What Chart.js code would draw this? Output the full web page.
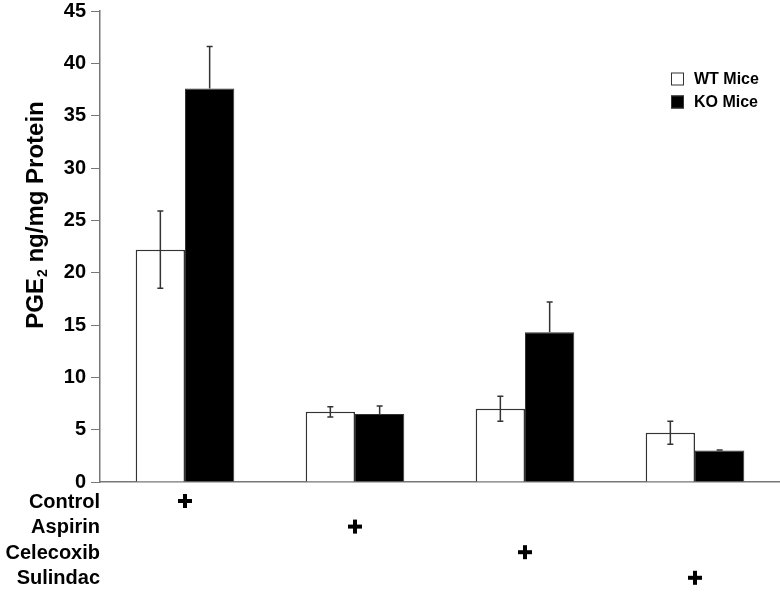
<!DOCTYPE html>
<html>
<head>
<meta charset="utf-8">
<script src="https://cdn.jsdelivr.net/npm/chart.js@4.4.0/dist/chart.umd.min.js"></script>
<style>
  html, body { margin: 0; padding: 0; background: #fff; }
  #wrap { width: 780px; height: 601px; position: relative; }
</style>
</head>
<body>
<div id="wrap"><canvas id="pgeChart"></canvas></div>
<script>
// groups (one per treatment) and series
const treatments = ['Control', 'Aspirin', 'Celecoxib', 'Sulindac'];
const wtValues = [22.2, 6.7, 7.0, 4.7];
const wtErrors = [3.7, 0.5, 1.2, 1.1];
const koValues = [37.6, 6.5, 14.3, 3.0];
const koErrors = [4.0, 0.75, 2.9, 0.05];
const yTicks = [0, 5, 10, 15, 20, 25, 30, 35, 40, 45];

const FONT = '"Liberation Sans", Arial, sans-serif';

// error bars on top of each bar
const errorBars = {
  id: 'errorBars',
  afterDatasetsDraw(chart) {
    const ctx = chart.ctx;
    const y = chart.scales.y;
    ctx.save();
    ctx.strokeStyle = '#333';
    ctx.lineWidth = 1.5;
    chart.data.datasets.forEach((ds, di) => {
      const meta = chart.getDatasetMeta(di);
      const dark = ds.backgroundColor === '#000000';
      meta.data.forEach((bar, i) => {
        const v = ds.data[i], e = ds.errors[i];
        const top = y.getPixelForValue(v + e);
        const bot = y.getPixelForValue(v - e);
        ctx.beginPath();
        ctx.moveTo(bar.x - 3, top); ctx.lineTo(bar.x + 3, top);
        ctx.moveTo(bar.x, top);
        if (dark) {
          // lower whisker disappears inside the black bar
          ctx.lineTo(bar.x, bar.y);
        } else {
          ctx.lineTo(bar.x, bot);
          ctx.moveTo(bar.x - 3, bot); ctx.lineTo(bar.x + 3, bot);
        }
        ctx.stroke();
      });
    });
    ctx.restore();
  }
};

// y title with subscript, legend box, treatment table under the axis
const extras = {
  id: 'extras',
  afterDraw(chart) {
    const ctx = chart.ctx;
    const x = chart.scales.x;
    const area = chart.chartArea;
    ctx.save();

    // y axis title (rotated, PGE with subscript 2)
    ctx.save();
    ctx.translate(43, 215);
    ctx.rotate(-Math.PI / 2);
    ctx.fillStyle = '#000';
    ctx.textBaseline = 'alphabetic';
    ctx.textAlign = 'left';
    const big = 'bold 24px ' + FONT, small = 'bold 14px ' + FONT;
    ctx.font = big;
    const w1 = ctx.measureText('PGE').width;
    const w3 = ctx.measureText(' ng/mg Protein').width;
    ctx.font = small;
    const w2 = ctx.measureText('2').width + 1;
    let sx = -(w1 + w2 + w3) / 2;
    ctx.font = big;
    ctx.fillText('PGE', sx, 0);
    ctx.font = small;
    ctx.fillText('2', sx + w1 + 1, 4);
    ctx.font = big;
    ctx.fillText(' ng/mg Protein', sx + w1 + w2, 0);
    ctx.restore();

    // legend
    ctx.font = 'bold 16px ' + FONT;
    ctx.textBaseline = 'middle';
    ctx.textAlign = 'left';
    chart.data.datasets.forEach((ds, i) => {
      const cy = 79 + i * 23;
      ctx.fillStyle = ds.backgroundColor;
      ctx.fillRect(671, cy - 6.5, 13, 13);
      ctx.strokeStyle = '#333';
      ctx.lineWidth = 1;
      ctx.strokeRect(671.5, cy - 6, 12, 12);
      ctx.fillStyle = '#000';
      ctx.fillText(ds.label, 694, cy + 1);
    });

    // rows below axis
    ctx.font = 'bold 20px ' + FONT;
    ctx.textAlign = 'right';
    treatments.forEach((t, i) => {
      const cy = area.bottom + 19 + i * 25.6;
      ctx.fillStyle = '#000';
      ctx.fillText(t, area.left, cy + 1);
      const px = x.getPixelForValue(i);
      ctx.fillRect(px - 7, cy - 2, 14, 4);
      ctx.fillRect(px - 2, cy - 7, 4, 14);
    });
    ctx.restore();
  }
};

new Chart(document.getElementById('pgeChart').getContext('2d'), {
  type: 'bar',
  data: {
    labels: treatments,
    datasets: [
      {
        label: 'WT Mice',
        data: wtValues,
        errors: wtErrors,
        backgroundColor: '#ffffff',
        borderColor: '#333333',
        borderWidth: 1.5,
        borderSkipped: 'bottom'
      },
      {
        label: 'KO Mice',
        data: koValues,
        errors: koErrors,
        backgroundColor: '#000000',
        borderColor: '#333333',
        borderWidth: 1,
        borderSkipped: 'bottom'
      }
    ]
  },
  options: {
    responsive: true,
    maintainAspectRatio: false,
    animation: false,
    layout: { padding: { top: 11, right: 0, bottom: 111, left: 0 } },
    plugins: {
      legend: { display: false },
      tooltip: { enabled: false }
    },
    datasets: {
      bar: { categoryPercentage: 0.58, barPercentage: 1.0 }
    },
    scales: {
      x: {
        grid: { display: false },
        border: { display: true, color: '#777', width: 1.5 },
        ticks: { display: false }
      },
      y: {
        min: 0,
        max: 45,
        afterBuildTicks: (scale) => { scale.ticks = yTicks.map(v => ({ value: v })); },
        afterFit: (scale) => {
          scale.width = 100;
          scale.paddingTop = 0;
          scale.paddingBottom = 0;
        },
        grid: { drawOnChartArea: false, drawTicks: true, tickLength: 9, color: '#777' },
        border: { display: true, color: '#777', width: 1.5 },
        ticks: {
          padding: 5,
          color: '#000',
          font: { family: FONT, size: 20, weight: 'bold' }
        }
      }
    }
  },
  plugins: [errorBars, extras]
});
</script>
</body>
</html>
